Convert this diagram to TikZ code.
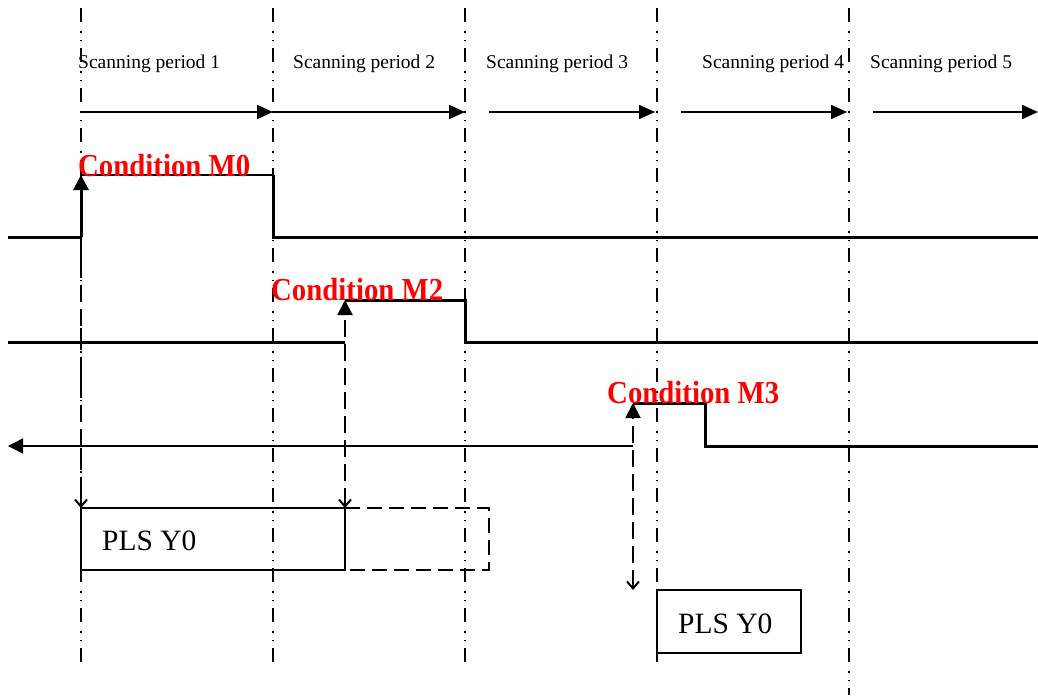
\documentclass[tikz,border=0pt]{standalone}
\usepackage{fontspec}
\setmainfont{Liberation Serif}
\newfontfamily\condfont{Liberation Serif}[FakeStretch=0.9]
\usetikzlibrary{arrows.meta}
\begin{document}
\begin{tikzpicture}[x=1pt,y=-1pt,
  barb/.tip={Straight Barb[length=7pt,width=12pt]},
  tri/.tip={Triangle[length=15pt,width=15pt]},
  period/.style={line width=2pt, dash pattern=on 14pt off 9pt on 1.5pt off 7pt on 1.5pt off 7pt},
  sig/.style={line width=3pt},
  thinsig/.style={line width=1.5pt},
  timearrow/.style={line width=2pt,-{Triangle[length=16pt,width=14pt]}},
  dashline/.style={line width=2pt, dash pattern=on 17pt off 7pt},
  lbl/.style={font=\fontsize{19.5}{20}\selectfont, anchor=base west, inner sep=0},
  cond/.style={text=red, font=\condfont\bfseries\fontsize{32}{32}\selectfont, anchor=base west, inner sep=0},
  pls/.style={font=\fontsize{29.5}{30}\selectfont, anchor=base west, inner sep=0},
  boxst/.style={draw, line width=2pt, anchor=north west, inner sep=0, outer sep=0},
]
\useasboundingbox (0,0) rectangle (1038,696);
\fill[white] (0,0) rectangle (1038,696);

% period lines
\foreach \x/\n/\b in {81/1/670,273/2/670,465/3/670,657/4/670,849/5/695}{
  \coordinate (t\n) at (\x,8);
  \coordinate (b\n) at (\x,\b);
  \draw[period] (t\n) -- (b\n);
}

% period labels
\node[lbl] (sp1) at (78,68) {Scanning period 1};
\node[lbl] (sp2) at (293,68) {Scanning period 2};
\node[lbl] (sp3) at (486,68) {Scanning period 3};
\node[lbl] (sp4) at (702,68) {Scanning period 4};
\node[lbl] (sp5) at (870,68) {Scanning period 5};

% time arrows
\coordinate (a1) at (81,112);
\coordinate (a2) at (273,112);
\coordinate (a3) at (465,112);
\coordinate (a4s) at (489,112);
\coordinate (a4) at (655,112);
\coordinate (a5s) at (681,112);
\coordinate (a5) at (847,112);
\coordinate (a6s) at (873,112);
\coordinate (a6) at (1038,112);
\draw[timearrow] (a1) -- (a2);
\draw[timearrow] (a2) -- (a3);
\draw[timearrow] (a4s) -- (a4);
\draw[timearrow] (a5s) -- (a5);
\draw[timearrow] (a6s) -- (a6);

% boxes
\node[boxst, minimum width=264pt, minimum height=62pt] (box1) at (81,508) {};
\node[pls] (pls1) at (102,550) {PLS Y0};
\coordinate (ext1) at (489,508);
\coordinate (ext2) at (489,570);
\draw[line width=2pt, dash pattern=on 15pt off 7pt] (box1.north east) -- (ext1) -- (ext2) -- (box1.south east);

\node[boxst, minimum width=144pt, minimum height=63pt] (box2) at (657,590) {};
\node[pls] (pls2) at (678,633) {PLS Y0};

% signal M0
\coordinate (m0a) at (8,237);
\coordinate (m0r) at (81,237);
\coordinate (m0h1) at (81,175);
\coordinate (m0h2) at (273,175);
\coordinate (m0f) at (273,237);
\coordinate (m0z) at (1038,237);
\draw[sig] (m0a) -- (m0r);
\draw[sig, -tri] (m0r) -- (m0h1);
\draw[line width=2.5pt] (m0h1) -- (m0h2);
\draw[sig] (m0h2) -- (m0f) -- (m0z);
\draw[dashline, -barb] (m0r) -- (box1.north west);
\node[cond] (c0) at (78,176) {Condition M0};

% signal M2
\coordinate (m2a) at (8,342);
\coordinate (m2r) at (345,342);
\coordinate (m2h1) at (345,300);
\coordinate (m2h2) at (465,300);
\coordinate (m2f) at (465,342);
\coordinate (m2z) at (1038,342);
\draw[sig] (m2a) -- (m2r);
\draw[sig] (m2h1) -- (m2h2) -- (m2f) -- (m2z);
\draw[dashline, barb-tri] (box1.north east) -- (m2h1);
\node[cond] (c2) at (271,300) {Condition M2};

% signal M3
\coordinate (m3a) at (8,446);
\coordinate (m3r) at (633,446);
\coordinate (m3h1) at (633,403);
\coordinate (m3h2) at (705,403);
\coordinate (m3f) at (705,446);
\coordinate (m3z) at (1038,446);
\coordinate (m3d) at (633,590);
\draw[thinsig, -tri] (m3r) -- (m3a);
\draw[sig] (m3h1) -- (m3h2) -- (m3f) -- (m3z);
\draw[dashline, barb-tri] (m3d) -- (m3h1);
\node[cond] (c3) at (607,403) {Condition M3};
\end{tikzpicture}
\end{document}
